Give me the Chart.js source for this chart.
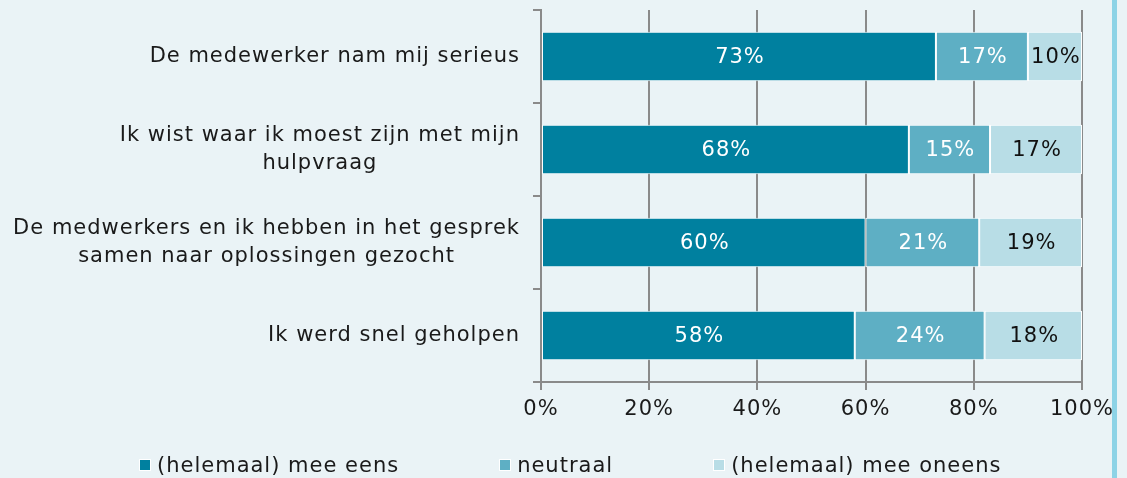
<!DOCTYPE html>
<html>
<head>
<meta charset="utf-8">
<script src="https://cdn.jsdelivr.net/npm/chart.js@4/dist/chart.umd.min.js"></script>
<style>
    html, body { margin: 0; padding: 0; background: #eaf3f6; overflow: hidden; }
    #wrap { position: relative; width: 1127px; height: 478px; }
    #chart { position: absolute; left: 0; top: 0; }
    #sideBar { position: absolute; left: 1112px; top: 0; width: 5px; height: 478px; background: #8dd3e6; }
    #legend { position: absolute; left: 139px; top: 453px; display: flex; gap: 100px;
        font-family: "DejaVu Sans", Verdana, sans-serif; font-size: 21px; letter-spacing: 1px;
        color: #1a1a1a; line-height: 24px; white-space: nowrap; }
    .item { display: flex; align-items: center; }
    .box { width: 10px; height: 10px; border: 1px solid #fff; margin-right: 6px; }
</style>
</head>
<body>
<div id="wrap">
    <canvas id="chart" width="1127" height="478"></canvas>
    <div id="sideBar"></div>
    <div id="legend"></div>
</div>
<script>
// categories (multi-line labels) and series values in percent
const categories = [
    ['De medewerker nam mij serieus'],
    ['Ik wist waar ik moest zijn met mijn', 'hulpvraag'],
    ['De medwerkers en ik hebben in het gesprek', 'samen naar oplossingen gezocht'],
    ['Ik werd snel geholpen']
];
const seriesNames = ['(helemaal) mee eens', 'neutraal', '(helemaal) mee oneens'];
const agree = [73, 68, 60, 58];
const neutral = [17, 15, 21, 24];
const disagree = [10, 17, 19, 18];
const xTicks = [0, 20, 40, 60, 80, 100];

const seriesColors = ['#00809f', '#5eafc4', '#b8dde6'];
const labelColors = ['#ffffff', '#ffffff', '#111111'];
const FONT = '"DejaVu Sans", Verdana, sans-serif';
const TEXT = '#1a1a1a';
const GRID = '#8a8a8a';

document.addEventListener('DOMContentLoaded', () => {
    // legend built from the same arrays
    const legend = document.getElementById('legend');
    seriesNames.forEach((name, i) => {
        const item = document.createElement('div');
        item.className = 'item';
        const box = document.createElement('span');
        box.className = 'box';
        box.style.background = seriesColors[i];
        const txt = document.createElement('span');
        txt.textContent = name;
        item.appendChild(box);
        item.appendChild(txt);
        legend.appendChild(item);
    });

    const spacing = {
        id: 'spacing',
        beforeUpdate(chart) { chart.ctx.letterSpacing = '1px'; },
        beforeDraw(chart) { chart.ctx.letterSpacing = '1px'; }
    };

    // category labels: right-aligned block, lines centred inside the block
    const yLabels = {
        id: 'yLabels',
        afterDraw(chart) {
            const ctx = chart.ctx;
            const y = chart.scales.y;
            ctx.save();
            ctx.font = '21px ' + FONT;
            ctx.fillStyle = TEXT;
            ctx.textAlign = 'center';
            ctx.textBaseline = 'middle';
            const right = y.right - 21;
            categories.forEach((lines, i) => {
                const cy = y.getPixelForValue(i);
                const w = Math.max(...lines.map(l => ctx.measureText(l).width));
                lines.forEach((l, j) => {
                    ctx.fillText(l, right - w / 2, cy + (j - (lines.length - 1) / 2) * 28);
                });
            });
            ctx.restore();
        }
    };

    // value labels inside each segment
    const valueLabels = {
        id: 'valueLabels',
        afterDatasetsDraw(chart) {
            const ctx = chart.ctx;
            ctx.save();
            ctx.font = '21px ' + FONT;
            ctx.textAlign = 'center';
            ctx.textBaseline = 'middle';
            chart.data.datasets.forEach((ds, di) => {
                chart.getDatasetMeta(di).data.forEach((bar, i) => {
                    ctx.fillStyle = labelColors[di];
                    const cx = (bar.x + bar.base) / 2;
                    ctx.fillText(ds.data[i] + '%', cx + 1, bar.y + 1);
                });
            });
            ctx.restore();
        }
    };

    const ctx = document.getElementById('chart').getContext('2d');
    new Chart(ctx, {
        type: 'bar',
        data: {
            labels: categories,
            datasets: [agree, neutral, disagree].map((vals, i) => ({
                label: seriesNames[i],
                data: vals,
                backgroundColor: seriesColors[i],
                borderColor: '#ffffff',
                borderWidth: 1,
                borderSkipped: false,
                categoryPercentage: 1,
                barPercentage: 0.53
            }))
        },
        options: {
            indexAxis: 'y',
            responsive: false,
            animation: false,
            layout: { padding: { top: 10, right: 45, left: 0, bottom: 0 } },
            plugins: { legend: { display: false }, tooltip: { enabled: false } },
            scales: {
                x: {
                    stacked: true,
                    min: 0,
                    max: 100,
                    afterBuildTicks: (s) => { s.ticks = xTicks.map(v => ({ value: v })); },
                    afterFit: (s) => { s.height = 96; },
                    ticks: {
                        color: TEXT,
                        padding: 7,
                        font: { family: FONT, size: 21 },
                        callback: (v) => v + '%'
                    },
                    grid: { color: GRID, lineWidth: 2, tickLength: 8 },
                    border: { color: GRID, width: 2 }
                },
                y: {
                    stacked: true,
                    afterFit: (s) => { s.width = 541; },
                    ticks: { display: false },
                    grid: { color: GRID, lineWidth: 2, tickLength: 8, drawOnChartArea: false, offset: true },
                    border: { color: GRID, width: 2 }
                }
            }
        },
        plugins: [spacing, yLabels, valueLabels]
    });
});
</script>
</body>
</html>
